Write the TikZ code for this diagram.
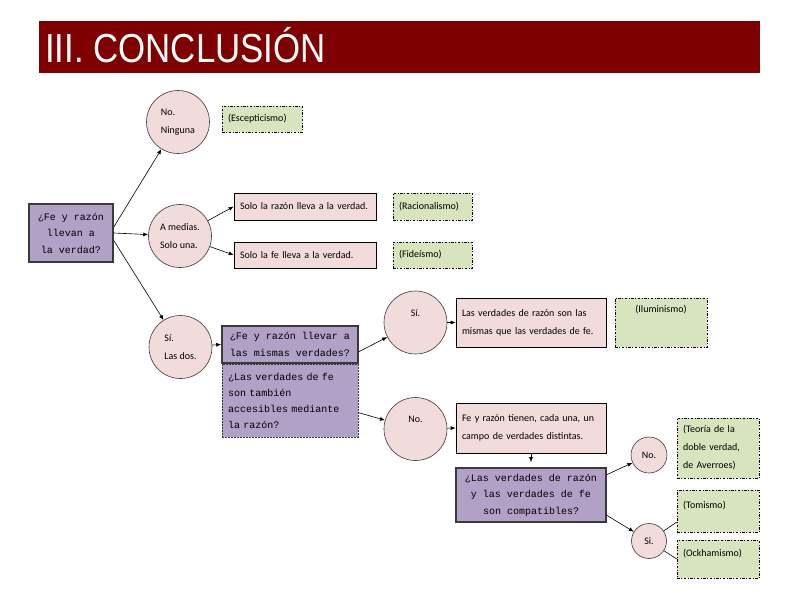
\documentclass[tikz,border=0pt]{standalone}
\usepackage{fontspec}
\setmainfont{Carlito}
\setmonofont{Liberation Mono}
\newfontfamily\titlefont{Liberation Sans}
\usepackage{tikz}
\usetikzlibrary{arrows.meta}
\definecolor{titlered}{HTML}{7F0000}
\definecolor{rosefill}{HTML}{F2DCDB}
\definecolor{sagefill}{HTML}{D7E4BD}
\definecolor{lilacfill}{HTML}{B2A1C7}
\definecolor{edgegray}{HTML}{3A3A3A}

\begin{document}
\begin{tikzpicture}[x=1pt,y=-1pt,
    answer/.style={circle,draw=edgegray,line width=0.6pt,fill=rosefill,minimum size=#1,
      inner sep=0pt,align=left,font=\fontsize{10}{18}\selectfont},
    answer/.default=63pt,
    claim/.style={draw=black,line width=0.6pt,fill=rosefill,align=left,inner sep=0pt,
      font=\fontsize{10}{18}\selectfont},
    school/.style={draw=black,line width=0.5pt,dash pattern=on 2.5pt off 1.5pt on 1pt off 1.5pt,
      fill=sagefill,align=left,inner sep=0pt,font=\fontsize{10}{18}\selectfont},
    question/.style={draw=edgegray,line width=1.6pt,fill=lilacfill,inner sep=0pt,
      font=\ttfamily\fontsize{10}{16.5}\selectfont},
    raised/.style={text height=7pt,text depth=#1},
    arr/.style={-{Latex[length=5pt,width=4pt]},line width=0.6pt},
    link/.style={line width=0.6pt}]
  \useasboundingbox (0,0) rectangle (794,595);
  \fill[titlered] (39,21) rectangle (760,73);
  \node[anchor=base west,text=white,inner sep=0pt,font=\titlefont\fontsize{40.5}{40.5}\selectfont]
    (title) at (45,62) {\scalebox{0.86}[1]{III. CONCLUSIÓN}};

  \node[question,minimum width=84pt,minimum height=58pt,align=center] (q1) at (71,233)
    {¿Fe y razón\\llevan a\\la verdad?};

  \node[answer] (c1) at (178,122) {No.\\Ninguna};
  \node[answer] (c2) at (180,236) {A medias.\\Solo una.};
  \node[answer] (c3) at (180.5,347) {Sí.\\Las dos.};

  \node[school,minimum width=80pt,minimum height=26pt,text width=68pt] (g1) at (262,119) {(Escepticismo)};
  \node[claim,minimum width=142pt,minimum height=27pt,text width=130pt] (r1) at (305,206.5)
    {Solo la razón lleva a la verdad.};
  \node[school,minimum width=79pt,minimum height=27pt,text width=67pt] (g2) at (432.5,206.5) {(Racionalismo)};
  \node[claim,minimum width=142pt,minimum height=26pt,text width=130pt] (r2) at (305,255)
    {Solo la fe lleva a la verdad.};
  \node[school,minimum width=79pt,minimum height=26pt,text width=67pt] (g3) at (432.5,255) {(Fideísmo)};

  \node[question,minimum width=136pt,minimum height=37pt,align=center] (b1) at (290,344.5)
    {¿Fe y razón llevar a\\las mismas verdades?};
  \node[question,line width=0.6pt,dash pattern=on 2pt off 1pt,minimum width=136pt,minimum height=73pt,
    text width=124pt,align=left,font=\ttfamily\fontsize{10}{16}\selectfont] (b2) at (290,400.5)
    {¿Las verdades de fe\\son también\\accesibles mediante\\la razón?};

  \node[answer,raised=20pt,align=center] (c4) at (415.5,322.5) {Sí.};
  \node[answer,raised=20pt,align=center] (c5) at (415.5,429) {No.};
  \node[claim,minimum width=150pt,minimum height=49pt,text width=138pt] (r3) at (531,322.5)
    {Las verdades de razón son las\\mismas que las verdades de fe.};
  \node[school,minimum width=92pt,minimum height=49pt,align=center,raised=28pt] (g4) at (661,322.5)
    {(Iluminismo)};
  \node[claim,minimum width=150pt,minimum height=50pt,text width=138pt] (r4) at (531,428)
    {Fe y razón tienen, cada una, un\\campo de verdades distintas.};
  \node[question,minimum width=150pt,minimum height=54pt,align=center] (b3) at (531,495)
    {¿Las verdades de razón\\y las verdades de fe\\son compatibles?};

  \node[answer=36pt,align=center] (c6) at (649,455) {No.};
  \node[answer=35pt,align=center] (c7) at (649,541) {Si.};
  \node[school,minimum width=82pt,minimum height=60pt,text width=70pt] (g5) at (718,448)
    {(Teoría de la\\doble verdad,\\de Averroes)};
  \node[school,minimum width=82pt,minimum height=42pt,text width=70pt,raised=12pt] (g6) at (718,511)
    {(Tomismo)};
  \node[school,minimum width=82pt,minimum height=38pt,text width=70pt,raised=12pt] (g7) at (718,559)
    {(Ockhamismo)};

  \draw[arr] (q1.8) -- (c1);
  \draw[arr] (q1.east) -- (c2);
  \draw[arr] (q1.-10) -- (c3);
  \draw[arr] (c2) -- (r1.west);
  \draw[arr] (c2) -- (r2.west);
  \draw[arr] (c3) -- (b1.west);
  \draw[arr] (b1.-6) -- (c4);
  \draw[arr] (b2.-10) -- (c5);
  \draw[arr] (c4) -- (r3.west);
  \draw[arr] (c5) -- (r4.west);
  \draw[arr,shorten >=5pt] (r4.south) -- (b3.north);
  \draw[arr] (b3.15) -- (c6);
  \draw[arr] (b3.-15) -- (c7);
  \draw[link] (c7) -- (g6.-165);
  \draw[link] (c7) -- (g7.west);
\end{tikzpicture}
\end{document}
